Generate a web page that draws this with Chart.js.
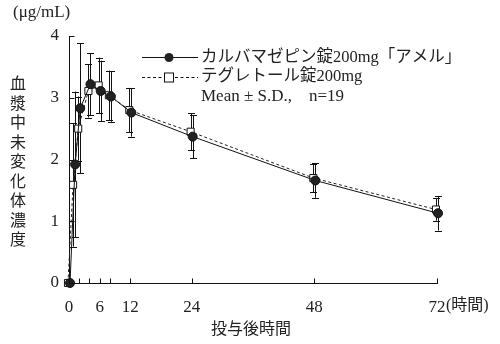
<!DOCTYPE html>
<html>
<head>
<meta charset="utf-8">
<script src="https://cdn.jsdelivr.net/npm/chart.js@4/dist/chart.umd.min.js"></script>
<style>
  html, body { margin: 0; padding: 0; background: #fff; }
  canvas { display: block; }
</style>
</head>
<body>
<canvas id="c" width="500" height="344"></canvas>
<script>
// Sampling times (h)
const times = [0, 1, 2, 4, 6, 8, 12, 24, 48, 72];
// カルバマゼピン錠200mg「アメル」 mean and SD (μg/mL)
const amelMean = [0, 1.92, 2.83, 3.22, 3.11, 3.02, 2.76, 2.37, 1.66, 1.13];
const amelSD   = [0, 1.18, 1.05, 0.50, 0.49, 0.41, 0.39, 0.35, 0.28, 0.28];
// テグレトール錠200mg mean and SD (μg/mL)
const tegMean  = [0, 1.59, 2.50, 3.11, 3.20, 3.04, 2.80, 2.45, 1.70, 1.19];
const tegSD    = [0, 1.00, 0.52, 0.43, 0.45, 0.40, 0.36, 0.30, 0.23, 0.18];
// Axis ticks
const xTicks = [0, 2, 4, 6, 8, 12, 24, 48, 72];
const xLabeled = [0, 6, 12, 24, 48, 72];
const yTicks = [0, 1, 2, 3, 4];

// small horizontal shift so the two series' error bars stay apart
const SHIFT = 0.2;

const SERIF = '"Liberation Serif", "DejaVu Serif", "Noto Sans CJK JP", serif';
const JP = '"Liberation Serif", "Noto Sans CJK JP", serif';

const amelPts = times.map((t, i) => ({ x: t + SHIFT, y: amelMean[i], sd: amelSD[i] }));
const tegPts  = times.map((t, i) => ({ x: t - SHIFT, y: tegMean[i], sd: tegSD[i] }));

const decorPlugin = {
  id: 'decor',
  beforeDatasetsDraw(chart) {
    const { ctx, scales: { x, y } } = chart;
    ctx.save();
    ctx.strokeStyle = '#111';
    ctx.lineWidth = 1;
    chart.data.datasets.forEach(ds => {
      ds.data.forEach(p => {
        if (!p.sd) return;
        const px = Math.round(x.getPixelForValue(p.x)) + 0.5;
        const top = y.getPixelForValue(p.y + p.sd);
        const bot = y.getPixelForValue(p.y - p.sd);
        ctx.beginPath();
        ctx.moveTo(px, top); ctx.lineTo(px, bot);
        ctx.moveTo(px - 3.5, Math.round(top) + 0.5); ctx.lineTo(px + 3.5, Math.round(top) + 0.5);
        ctx.moveTo(px - 3.5, Math.round(bot) + 0.5); ctx.lineTo(px + 3.5, Math.round(bot) + 0.5);
        ctx.stroke();
      });
    });
    ctx.restore();
  },
  afterDraw(chart) {
    const { ctx, scales: { x, y } } = chart;
    ctx.save();
    ctx.strokeStyle = '#111';
    ctx.lineWidth = 1;
    // inward tick marks
    ctx.beginPath();
    const by = Math.round(y.getPixelForValue(0)) + 0.5;
    xTicks.forEach(t => {
      const px = Math.round(x.getPixelForValue(t)) + 0.5;
      ctx.moveTo(px, by); ctx.lineTo(px, by - 5);
    });
    const lx = Math.round(x.getPixelForValue(0)) + 0.5;
    yTicks.forEach(v => {
      const py = Math.round(y.getPixelForValue(v)) + 0.5;
      ctx.moveTo(lx, py); ctx.lineTo(lx + 5, py);
    });
    ctx.stroke();

    ctx.fillStyle = '#222';
    // unit
    ctx.font = '17px ' + SERIF;
    ctx.textAlign = 'left';
    ctx.textBaseline = 'middle';
    ctx.fillText('(μg/mL)', 13, 13);
    // "(時間)" after the last x label
    const x72 = x.getPixelForValue(72);
    ctx.font = '16px ' + JP;
    ctx.fillText('(時間)', x72 + 9, 306);
    // x title
    ctx.textAlign = 'center';
    ctx.fillText('投与後時間', 251, 330);
    // vertical y title
    const yt = '血漿中未変化体濃度';
    for (let i = 0; i < yt.length; i++) {
      ctx.fillText(yt[i], 18, 85 + i * 19.5);
    }

    // legend
    ctx.strokeStyle = '#111';
    ctx.beginPath();
    ctx.moveTo(142, 57.5); ctx.lineTo(198, 57.5);
    ctx.stroke();
    ctx.beginPath();
    ctx.fillStyle = '#222';
    ctx.arc(169, 57.5, 4.5, 0, Math.PI * 2);
    ctx.fill();
    ctx.setLineDash([3, 2.5]);
    ctx.beginPath();
    ctx.moveTo(142, 77.5); ctx.lineTo(198, 77.5);
    ctx.stroke();
    ctx.setLineDash([]);
    ctx.fillStyle = '#fff';
    ctx.fillRect(164.5, 73, 9, 9);
    ctx.strokeRect(164.5, 73, 9, 9);

    ctx.fillStyle = '#222';
    ctx.textAlign = 'left';
    ctx.font = '16.5px ' + JP;
    ctx.fillText('カルバマゼピン錠200mg「アメル」', 201, 58);
    ctx.fillText('テグレトール錠200mg', 201, 77);
    ctx.font = '17px ' + JP;
    ctx.fillText('Mean ± S.D.,\u3000n=19', 201, 97);
    ctx.restore();
  }
};

new Chart(document.getElementById('c'), {
  type: 'scatter',
  data: {
    datasets: [
      {
        label: 'テグレトール錠200mg',
        data: tegPts,
        showLine: true,
        borderColor: '#222',
        borderWidth: 1,
        borderDash: [3, 2.5],
        pointStyle: 'rect',
        pointRadius: 5,
        pointBackgroundColor: '#fff',
        pointBorderColor: '#111',
        pointBorderWidth: 1,
        clip: false,
        order: 2
      },
      {
        label: 'カルバマゼピン錠200mg「アメル」',
        data: amelPts,
        showLine: true,
        borderColor: '#111',
        borderWidth: 1,
        pointStyle: 'circle',
        pointRadius: 4.5,
        pointBackgroundColor: '#222',
        pointBorderColor: '#111',
        pointBorderWidth: 1,
        clip: false,
        order: 1
      }
    ]
  },
  options: {
    responsive: false,
    animation: false,
    layout: { padding: { left: 0, top: 36, right: 63, bottom: 0 } },
    plugins: { legend: { display: false }, tooltip: { enabled: false } },
    scales: {
      x: {
        type: 'linear',
        min: 0, max: 72,
        afterBuildTicks(s) { s.ticks = xLabeled.map(v => ({ value: v })); },
        afterFit(s) { s.height = 61; },
        grid: { display: false, drawTicks: false },
        border: { display: true, color: '#111', width: 1 },
        ticks: {
          padding: 14,
          autoSkip: false,
          maxRotation: 0,
          color: '#222',
          font: { family: SERIF, size: 17 },
          callback: v => String(v)
        }
      },
      y: {
        min: 0, max: 4,
        afterBuildTicks(s) { s.ticks = yTicks.map(v => ({ value: v })); },
        afterFit(s) { s.width = 69; },
        grid: { display: false, drawTicks: false },
        border: { display: true, color: '#111', width: 1 },
        ticks: {
          padding: 10,
          color: '#222',
          font: { family: SERIF, size: 17 },
          callback: v => String(v)
        }
      }
    }
  },
  plugins: [decorPlugin]
});
</script>
</body>
</html>
